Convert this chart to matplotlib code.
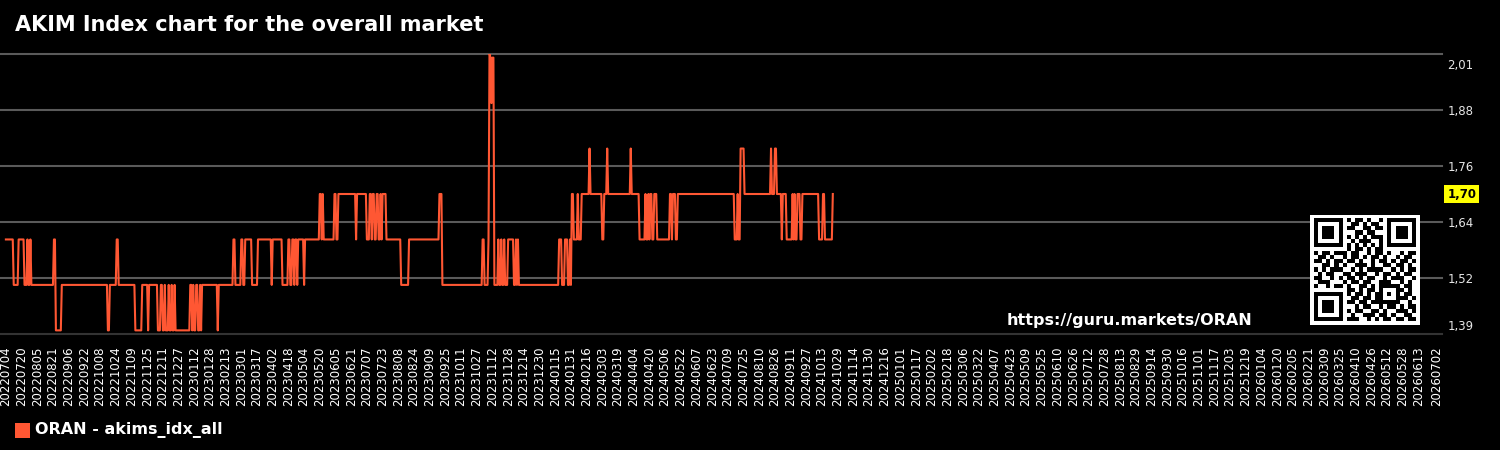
import matplotlib
matplotlib.use('agg')
import matplotlib.pyplot as plt
from matplotlib.patches import Rectangle
import numpy as np
import pandas as pd

## Data (dates where the index changes, and the new value)
change_dates = [
    "2022-07-04", "2022-07-12", "2022-07-17", "2022-07-23", "2022-07-26", "2022-07-27",
    "2022-07-29", "2022-07-30", "2022-08-22", "2022-08-24", "2022-08-30", "2022-10-16",
    "2022-10-18", "2022-10-25", "2022-10-27", "2022-11-13", "2022-11-20", "2022-11-26",
    "2022-11-27", "2022-12-06", "2022-12-09", "2022-12-11", "2022-12-13", "2022-12-14",
    "2022-12-17", "2022-12-18", "2022-12-20", "2022-12-21", "2022-12-23", "2022-12-24",
    "2023-01-08", "2023-01-10", "2023-01-11", "2023-01-12", "2023-01-14", "2023-01-16",
    "2023-01-18", "2023-01-19", "2023-01-20", "2023-02-05", "2023-02-06", "2023-02-21",
    "2023-02-23", "2023-03-01", "2023-03-03", "2023-03-05", "2023-03-12", "2023-03-18",
    "2023-04-01", "2023-04-02", "2023-04-12", "2023-04-18", "2023-04-20", "2023-04-22",
    "2023-04-24", "2023-04-25", "2023-04-27", "2023-04-28", "2023-05-04", "2023-05-05",
    "2023-05-20", "2023-05-22", "2023-05-23", "2023-05-24", "2023-06-04", "2023-06-06",
    "2023-06-08", "2023-06-26", "2023-06-27", "2023-07-07", "2023-07-10", "2023-07-12",
    "2023-07-13", "2023-07-15", "2023-07-17", "2023-07-19", "2023-07-21", "2023-07-22",
    "2023-07-23", "2023-07-27", "2023-08-11", "2023-08-19", "2023-09-19", "2023-09-22",
    "2023-11-02", "2023-11-04", "2023-11-08", "2023-11-09", "2023-11-10", "2023-11-11",
    "2023-11-12", "2023-11-14", "2023-11-18", "2023-11-19", "2023-11-21", "2023-11-22",
    "2023-11-24", "2023-11-25", "2023-11-28", "2023-12-04", "2023-12-06", "2023-12-07",
    "2023-12-08", "2023-12-09", "2024-01-19", "2024-01-22", "2024-01-25", "2024-01-28",
    "2024-01-30", "2024-01-31", "2024-02-01", "2024-02-03", "2024-02-07", "2024-02-08",
    "2024-02-11", "2024-02-19", "2024-02-20", "2024-03-03", "2024-03-05", "2024-03-08",
    "2024-03-09", "2024-04-01", "2024-04-02", "2024-04-10", "2024-04-16", "2024-04-17",
    "2024-04-19", "2024-04-20", "2024-04-21", "2024-04-23", "2024-04-25", "2024-04-28",
    "2024-05-11", "2024-05-13", "2024-05-14", "2024-05-17", "2024-05-19", "2024-07-16",
    "2024-07-19", "2024-07-20", "2024-07-22", "2024-07-26", "2024-08-22", "2024-08-23",
    "2024-08-26", "2024-08-28", "2024-09-02", "2024-09-03", "2024-09-07", "2024-09-13",
    "2024-09-14", "2024-09-15", "2024-09-16", "2024-09-18", "2024-09-21", "2024-09-23",
    "2024-10-10", "2024-10-14", "2024-10-16", "2024-10-24",
]
index_values = [
    1.60, 1.50, 1.60, 1.50, 1.60, 1.50,
    1.60, 1.50, 1.60, 1.40, 1.50, 1.40,
    1.50, 1.60, 1.50, 1.40, 1.50, 1.40,
    1.50, 1.40, 1.50, 1.40, 1.50, 1.40,
    1.50, 1.40, 1.50, 1.40, 1.50, 1.40,
    1.50, 1.40, 1.50, 1.40, 1.50, 1.40,
    1.50, 1.40, 1.50, 1.40, 1.50, 1.60,
    1.50, 1.60, 1.50, 1.60, 1.50, 1.60,
    1.50, 1.60, 1.50, 1.60, 1.50, 1.60,
    1.50, 1.60, 1.50, 1.60, 1.50, 1.60,
    1.70, 1.60, 1.70, 1.60, 1.70, 1.60,
    1.70, 1.60, 1.70, 1.60, 1.70, 1.60,
    1.70, 1.60, 1.70, 1.60, 1.70, 1.60,
    1.70, 1.60, 1.50, 1.60, 1.70, 1.50,
    1.60, 1.50, 1.60, 2.01, 2.00, 1.90,
    2.00, 1.50, 1.60, 1.50, 1.60, 1.50,
    1.60, 1.50, 1.60, 1.50, 1.60, 1.50,
    1.60, 1.50, 1.60, 1.50, 1.60, 1.50,
    1.60, 1.50, 1.70, 1.60, 1.70, 1.60,
    1.70, 1.80, 1.70, 1.60, 1.70, 1.80,
    1.70, 1.80, 1.70, 1.60, 1.70, 1.60,
    1.70, 1.60, 1.70, 1.60, 1.70, 1.60,
    1.70, 1.60, 1.70, 1.60, 1.70, 1.60,
    1.70, 1.60, 1.80, 1.70, 1.80, 1.70,
    1.80, 1.70, 1.60, 1.70, 1.60, 1.70,
    1.60, 1.70, 1.60, 1.70, 1.60, 1.70,
    1.60, 1.70, 1.60, 1.70,
]

ytick_values = [1.392, 1.5152, 1.6384, 1.7616, 1.8848, 2.008]
ytick_labels = ["1,39", "1,52", "1,64", "1,76", "1,88", "2,01"]

# x labels: every 16 days from the first date, plus the last date of the axis
xtick_first = "2022-07-04"
xtick_step_days = 16
xtick_count = 91
xtick_last = "2026-07-02"

last_value = index_values[-1]
last_label = "1,70"

title = "AKIM Index chart for the overall market"
series_name = "ORAN - akims_idx_all"
site_url = "https://guru.markets/ORAN"

LINE_COLOR = "#FF5733"
W, H = 1500.0, 450.0

# QR code modules (1 = black), drawn as a picture in the corner
qr_rows = [
    "1111111" + "0" + "101101001" + "0" + "1111111",
    "1000001" + "0" + "011010110" + "0" + "1000001",
    "1011101" + "0" + "110011011" + "0" + "1011101",
    "1011101" + "0" + "001101100" + "0" + "1011101",
    "1011101" + "0" + "101010111" + "0" + "1011101",
    "1000001" + "0" + "010111001" + "0" + "1000001",
    "1111111" + "0" + "101010101" + "0" + "1111111",
    "00000000" + "101101011" + "00000000",
    "1011011101100101101001011",
    "0110100101101011010010110",
    "1101011011010010110101101",
    "0011010100111010011011010",
    "1010111001010111100101011",
    "0101100110111001011010110",
    "1100101011010110010111001",
    "0111000101101100111001010",
    "1001011010011010" + "11111" + "0110",
    "00000000" + "11010110" + "10001" + "1010",
    "1111111" + "0" + "10110101" + "10101" + "0110",
    "1000001" + "0" + "01101101" + "10001" + "1101",
    "1011101" + "0" + "11011011" + "11111" + "0010",
    "1011101" + "0" + "00101100" + "101101011",
    "1011101" + "0" + "10110011" + "010011101",
    "1000001" + "0" + "01001110" + "110100110",
    "1111111" + "0" + "11100101" + "011011011",
]

## Daily series: each value holds until the day before the next change
dates = pd.to_datetime(change_dates)
one_day = pd.Timedelta(days=1)
line_x, line_y = [], []
for i in range(len(dates)):
    line_x.append(dates[i])
    line_y.append(index_values[i])
    if i + 1 < len(dates) and dates[i + 1] - one_day > dates[i]:
        line_x.append(dates[i + 1] - one_day)
        line_y.append(index_values[i])

## Figure
fig = plt.figure(figsize=(15, 4.5), dpi=100, facecolor="black")
ax = fig.add_axes([0, 1 - 334 / H, 1442 / W, 280 / H])
ax.set_facecolor("black")

ax.plot(line_x, line_y, color=LINE_COLOR, lw=1.5, zorder=3)

ax.set_xlim(pd.Timestamp("2022-06-28"), pd.Timestamp("2026-07-07"))
ax.set_ylim(ytick_values[0], ytick_values[-1])
for s in ax.spines.values():
    s.set_visible(False)

# y axis on the right, comma decimals (labels drawn as text, edges pulled inward)
ax.yaxis.tick_right()
ax.set_yticks(ytick_values)
ax.tick_params(axis="y", length=0, labelright=False)
ax.grid(axis="y", color="#5a5a5a", lw=1.5, clip_on=False)
ax.yaxis.get_gridlines()[0].set_color("#333333")
label_shift = [5.2, -1.4, -1.4, -1.4, -1.4, -8.6]
for v, lab, dy in zip(ytick_values, ytick_labels, label_shift):
    ax.annotate(lab, xy=(1.0, v), xycoords=ax.get_yaxis_transform(),
                xytext=(3.8, dy), textcoords="offset points",
                ha="left", va="center", fontsize=8.5, color="#e6e6e6",
                annotation_clip=False)

xticks = list(pd.date_range(xtick_first, periods=xtick_count, freq="%dD" % xtick_step_days))
xticks.append(pd.Timestamp(xtick_last))
ax.set_xticks(xticks)
ax.set_xticklabels([d.strftime("%Y%m%d") for d in xticks], rotation=90)
ax.tick_params(axis="x", length=0, pad=9, labelsize=8.5, labelcolor="white")

# current value marker
ax.annotate(last_label, xy=(1.0, last_value), xycoords=ax.get_yaxis_transform(),
            xytext=(3.8, 0), textcoords="offset points",
            ha="left", va="center", fontsize=8.5, fontweight="bold", color="black",
            bbox=dict(boxstyle="square,pad=0.25", fc="#FFFF00", ec="none"),
            annotation_clip=False)

## Texts
fig.text(15 / W, 1 - 25 / H, title, ha="left", va="center",
         fontsize=15, fontweight="bold", color="white")
fig.text(1007 / W, 1 - 320 / H, site_url, ha="left", va="center",
         fontsize=11.5, fontweight="bold", color="white")

# legend
fig.patches.append(Rectangle((15 / W, 1 - 438 / H), 15 / W, 15 / H,
                             transform=fig.transFigure, fc=LINE_COLOR, ec="none"))
fig.text(35 / W, 1 - 430 / H, series_name, ha="left", va="center",
         fontsize=11.5, fontweight="bold", color="white")

## QR code
qr = np.array([[int(c) for c in r] for r in qr_rows])
qr = np.pad(qr, 1)
qax = fig.add_axes([1310 / W, 1 - 325 / H, 110 / W, 110 / H])
qax.imshow(qr, cmap="gray_r", vmin=0, vmax=1, interpolation="nearest", aspect="auto")
qax.axis("off")

plt.savefig("out.png", dpi=100, facecolor="black")
